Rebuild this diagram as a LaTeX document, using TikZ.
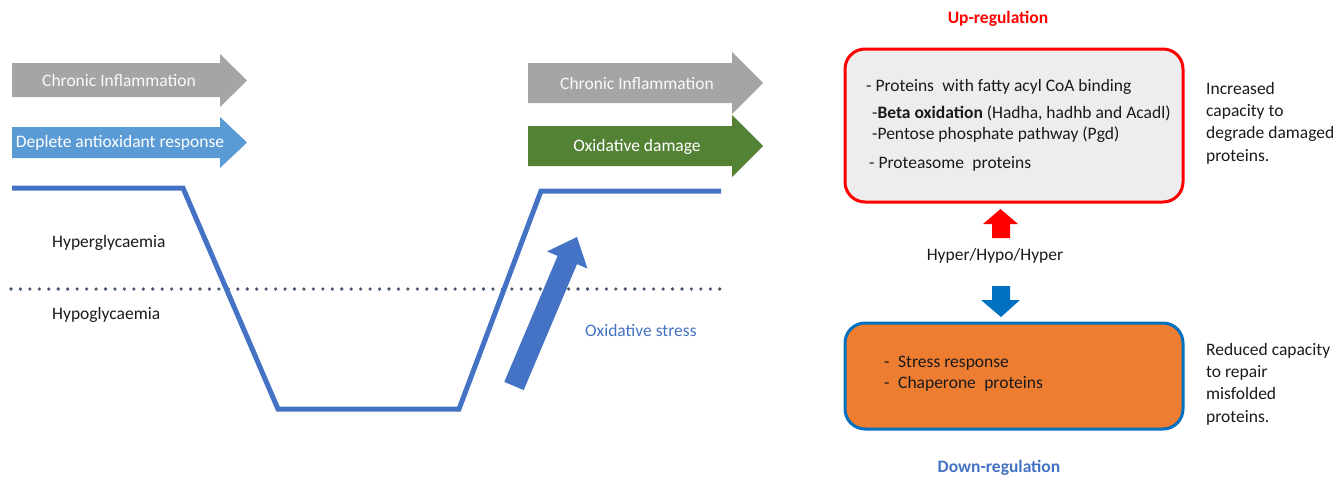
\documentclass[tikz,border=0pt]{standalone}
\usepackage{fontspec}
\setmainfont{Carlito}
\definecolor{grayarrow}{HTML}{A5A5A5}
\definecolor{bluearrow}{HTML}{5B9BD5}
\definecolor{greenarrow}{HTML}{548235}
\definecolor{lineblue}{HTML}{4472C4}
\definecolor{dotcol}{HTML}{44546A}
\definecolor{upred}{HTML}{FF0000}
\definecolor{downblue}{HTML}{0070C0}
\definecolor{orangefill}{HTML}{ED7D31}
\definecolor{boxgray}{HTML}{EDEDED}
\definecolor{txt}{HTML}{1A1A1A}
\begin{document}
\begin{tikzpicture}[x=1pt,y=-1pt,
  lbl/.style={inner sep=0pt, font=\fontsize{17.5}{20}\selectfont, text=txt},
  arrowlbl/.style={inner sep=0pt, font=\fontsize{17.5}{20}\selectfont},
  sidetxt/.style={inner sep=0pt, anchor=north west, align=left, text=txt,
                  font=\fontsize{17.5}{22.3}\selectfont},
  regbox/.style={line width=3pt, rounded corners=20pt, minimum width=338pt, inner sep=0pt}
]
\useasboundingbox (0,0) rectangle (1339,477);

% ---- left block arrows
\fill[grayarrow] (12,63) -- (220,63) -- (220,54) -- (247,80.5) -- (220,107) -- (220,97) -- (12,97) -- cycle;
\node[arrowlbl, text=white!95!gray] (ci1) at (119,80) {Chronic Inflammation};
\fill[bluearrow] (12,127) -- (220,127) -- (220,117) -- (247,142.5) -- (220,168) -- (220,158) -- (12,158) -- cycle;
\node[arrowlbl, text=white] (dar) at (120,143) {Deplete antioxidant response};

% ---- right block arrows
\fill[grayarrow] (528,63) -- (732,63) -- (732,52) -- (763,83) -- (732,114) -- (732,103) -- (528,103) -- cycle;
\node[arrowlbl, text=white!95!gray] (ci2) at (637,83) {Chronic Inflammation};
\fill[greenarrow] (528,126) -- (732,126) -- (732,115) -- (763,146) -- (732,177) -- (732,166) -- (528,166) -- cycle;
\node[arrowlbl, text=white] (od) at (637,147) {Oxidative damage};

% ---- glucose profile
\draw[dotcol, line width=3.6pt, line cap=round, dash pattern=on 0pt off 9.45pt] (11,289) -- (721,289);
\draw[lineblue, line width=5pt, line join=miter] (12,188) -- (183,188) -- (278,409) -- (459,409) -- (541,191) -- (721,191);
\node[lbl, anchor=west] (hyper) at (52,243) {Hyperglycaemia};
\node[lbl, anchor=west] (hypo) at (52,315) {Hypoglycaemia};

% ---- oxidative stress arrow
\fill[lineblue] (504.3,381.9) -- (557.6,255.9) -- (547.1,251.4) -- (577,237) -- (587.5,268.6) -- (577.0,264.1) -- (523.7,390.1) -- cycle;
\node[lbl, anchor=west, text=lineblue] (os) at (585,330) {Oxidative stress};

% ---- up-regulation box
\node[inner sep=0pt, font=\bfseries\fontsize{17.5}{20}\selectfont, text=upred] (uplbl) at (998,19) {Up-regulation};
\node[regbox, draw=upred, fill=boxgray, minimum height=153pt] (upbox) at (1014,125.5) {};
\node[lbl, anchor=west] (u1) at (866,87) {- Proteins\hspace{0.25em} with fatty acyl CoA binding};
\node[lbl, anchor=west] (u2) at (872,113) {-\textbf{Beta oxidation} (Hadha, hadhb and Acadl)};
\node[lbl, anchor=west] (u3) at (872,135) {-Pentose phosphate pathway (Pgd)};
\node[lbl, anchor=west] (u4) at (869,164) {- Proteasome\hspace{0.25em} proteins};
\node[sidetxt] (upside) at (1206,82) {Increased\\capacity to\\degrade damaged\\proteins.};

% ---- middle
\node[lbl] (hhh) at (995,256) {Hyper/Hypo/Hyper};
\fill[upred] (992,238) -- (992,224) -- (983,224) -- (1000.5,209) -- (1018,224) -- (1010,224) -- (1010,238) -- cycle;
\fill[downblue] (992,286) -- (1010,286) -- (1010,300) -- (1020,300) -- (1001,317) -- (981,300) -- (992,300) -- cycle;

% ---- down-regulation box
\node[regbox, draw=downblue, fill=orangefill, minimum height=106pt] (downbox) at (1014,376) {};
\node[lbl, anchor=west] (d1) at (884,363) {\makebox[14pt][l]{-}Stress response};
\node[lbl, anchor=west] (d2) at (884,384) {\makebox[14pt][l]{-}Chaperone\hspace{0.25em} proteins};
\node[sidetxt] (downside) at (1206,343) {Reduced capacity\\to repair\\misfolded\\proteins.};
\node[inner sep=0pt, font=\bfseries\fontsize{17.5}{20}\selectfont, text=lineblue] (downlbl) at (999,468) {Down-regulation};
\end{tikzpicture}
\end{document}
